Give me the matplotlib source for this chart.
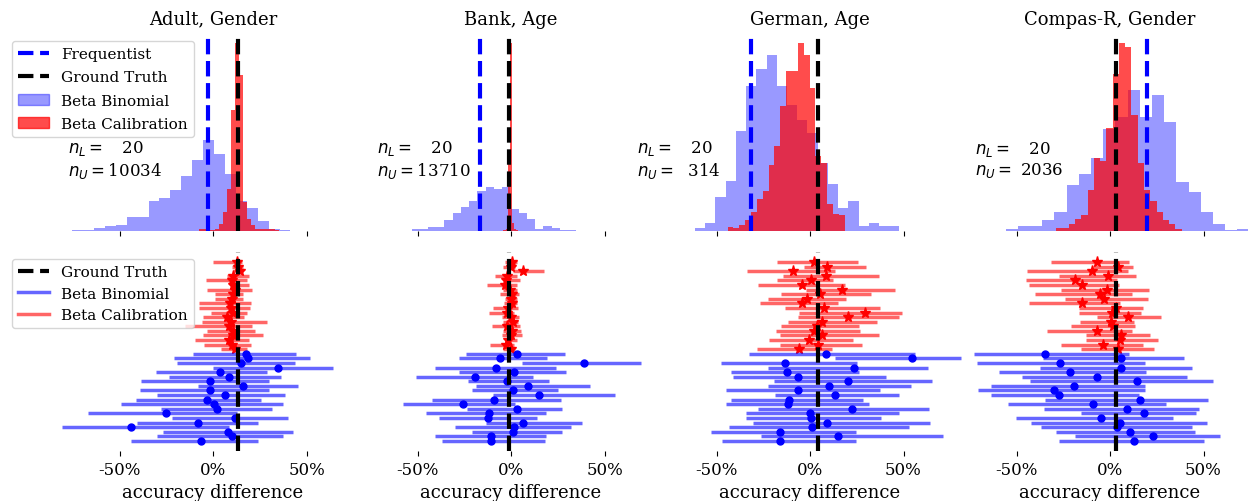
import numpy as np
import matplotlib
matplotlib.use('Agg')
import matplotlib.pyplot as plt
import matplotlib.transforms as mtransforms
from matplotlib.lines import Line2D
from matplotlib.patches import Patch

plt.rcParams['font.family'] = 'serif'

# Datensaetze / geschuetzte Attribute
titles = ['Adult, Gender', 'Bank, Age', 'German, Age', 'Compas-R, Gender']
n_labeled = [20, 20, 20, 20]
n_unlabeled = [10034, 13710, 314, 2036]

# Genauigkeitsdifferenz in Prozent
ground_truth = [13.6, -0.9, 4.3, 3.2]
frequentist = [-2.5, -16.5, -31.4, 19.8]

# Histogramme der Posterior-Stichproben: (Start, Ende) der Bins und Hoehen
bb_hist_range = [(-75.3, 41.4), (-53.2, 34.9), (-61.5, 47.8), (-55.8, 74.6)]
bb_hist_heights = [
    [0.7, 1.3, 3.0, 4.7, 5.7, 14.0, 14.0, 30.0, 33.3, 41.3,
     55.7, 71.3, 91.7, 77.3, 57.3, 30.0, 23.0, 9.7, 2.3, 1.3],
    [1.7, 1.7, 4.0, 4.0, 11.3, 18.0, 23.3, 29.7, 39.7, 44.0,
     41.3, 44.0, 22.3, 18.0, 12.3, 2.3, 4.7, 3.3, 1.3, 0.7],
    [3.0, 8.3, 34.7, 50.7, 100.7, 146.3, 163.3, 177.3, 146.3, 126.7,
     112.3, 99.0, 69.0, 47.3, 23.3, 30.7, 5.0, 8.3, 5.0, 5.0],
    [1.7, 5.0, 5.0, 10.7, 19.7, 46.3, 58.0, 74.0, 103.3, 115.7,
     142.3, 115.7, 138.0, 110.7, 49.7, 39.7, 19.7, 7.3, 0.7, 2.3],
]
bc_hist_range = [(-7.5, 35.1), (-5.5, 4.5), (-44.1, 18.6), (-28.8, 38.3)]
bc_hist_heights = [
    [1.7, 1.7, 0.7, 0.7, 2.3, 7.3, 19.0, 42.3, 122.3, 189.0,
     157.0, 29.0, 12.3, 5.7, 2.3, 1.7, 1.7, 1.7, 1.7, 1.3],
    [0.3, 0.7, 1.3, 2.3, 72.0, 186.0, 8.0, 2.3, 1.0, 0.3],
    [4.0, 3.3, 5.7, 10.7, 19.0, 32.0, 40.0, 66.7, 85.7, 126.0,
     161.0, 161.3, 189.0, 177.0, 144.0, 75.7, 69.0, 27.3, 17.3, 15.7],
    [3.3, 3.3, 7.3, 11.7, 15.7, 41.3, 74.0, 70.7, 104.0, 158.3,
     189.7, 185.7, 117.3, 68.3, 41.3, 30.7, 19.0, 10.7, 7.3, 1.7],
]

# Intervalle je Wiederholung: Beta Calibration (bc) und Beta Binomial (bb)
bc_low = [
    [0.2, 10.0, 10.9, 7.3, -3.8, 9.1, -3.0, 1.1, 1.1, -7.5,
     -7.5, -1.3, -5.6, -6.1, -15.0, -3.4, -5.2, -9.7, -4.8, 4.3],
    [-3.2, -4.4, 1.2, -8.5, -4.1, -12.9, -4.4, -5.9, -3.2, -3.5,
     -9.8, -12.0, -5.0, -4.4, -10.3, -4.1, -5.0, -3.2, -11.2, -4.1],
    [-17.9, -3.4, -33.9, -14.5, -17.4, -28.0, -2.3, -15.4, -22.6, -26.5,
     -13.4, -5.9, -6.3, -11.8, -15.4, -18.1, -15.9, -21.9, -15.8, -28.5],
    [-31.5, -9.0, -44.4, -27.3, -45.0, -43.2, -26.4, -40.1, -24.3, -43.2,
     -16.5, -16.5, -6.8, -16.2, -21.0, -33.6, -12.6, -13.1, -26.1, -15.3],
]
bc_point = [
    [13.1, 13.6, 14.2, 10.9, 10.0, 10.9, 11.8, 10.9, 10.4, 9.1,
     9.5, 10.9, 7.3, 9.5, 8.8, 10.9, 10.6, 8.8, 10.4, 11.8],
    [0.4, -0.2, 6.2, -2.3, -2.7, -3.2, -0.5, 0.4, -0.2, 0.4,
     -1.8, -2.0, 0.0, 0.9, -2.3, 0.4, 0.0, -1.4, -2.7, 0.0],
    [2.0, 9.1, -9.3, 8.8, 0.5, -4.3, 17.2, 5.2, -1.4, -4.5,
     7.7, 29.4, 20.1, 6.6, 3.9, 2.0, 6.6, -0.5, 4.3, -6.1],
    [-6.8, 4.1, -9.7, -1.3, -18.7, -14.9, -1.8, -5.4, -3.2, -14.9,
     3.1, 0.9, 9.5, 0.4, 1.4, -7.2, 5.8, 5.6, -3.8, 4.3],
]
bc_high = [
    [15.4, 16.0, 16.3, 19.0, 18.1, 19.0, 20.8, 16.0, 16.0, 20.3,
     19.9, 18.1, 16.8, 28.9, 20.8, 22.6, 27.0, 19.0, 20.3, 18.1],
    [3.0, 2.1, 17.6, 3.0, 4.8, 3.0, 3.0, 4.3, 3.0, 3.0,
     3.5, 1.6, 4.4, 3.9, 4.8, 5.1, 5.7, 3.4, 1.8, 2.1],
    [25.8, 30.1, 13.6, 37.1, 12.4, 18.6, 45.2, 32.4, 19.5, 15.1,
     37.5, 49.1, 47.7, 36.0, 26.3, 26.7, 37.1, 22.8, 28.0, 11.8],
    [10.1, 12.2, 9.5, 13.8, 3.6, 5.0, 21.0, 11.7, 20.3, 5.4,
     17.6, 16.7, 27.3, 13.1, 13.5, 11.7, 21.6, 25.9, 17.6, 23.7],
]
bb_low = [
    [-10.6, -21.0, -19.0, 0.2, -30.6, -23.5, -38.7, -7.9, -39.2, -29.9,
     -41.4, -49.0, -28.0, -66.7, -22.0, -40.9, -80.6, -26.7, -29.7, -43.7],
    [-23.9, -28.0, 6.0, -40.4, -27.7, -51.0, -23.0, -18.6, -20.9, -9.8,
     -42.0, -57.8, -23.6, -45.6, -38.7, -13.5, -30.0, -20.7, -40.8, -36.7],
    [-32.4, 13.6, -47.7, -22.2, -42.3, -41.2, -19.4, -22.6, -45.0, -18.8,
     -42.1, -44.8, -27.8, -34.2, -34.2, -30.6, -43.2, -52.7, -26.0, -46.8],
    [-72.8, -35.6, -71.0, -37.2, -59.2, -46.9, -42.6, -63.8, -70.5, -63.7,
     -34.5, -54.3, -35.1, -15.6, -50.4, -42.4, -36.9, -29.1, -18.9, -27.5],
]
bb_point = [
    [17.7, 18.5, 15.2, 34.8, 3.8, 8.8, -1.6, 16.3, -1.6, 6.6,
     -3.0, 0.5, 2.2, -25.1, 11.5, -8.2, -44.0, 7.9, 10.2, -6.5],
    [3.0, -5.9, 39.0, -8.2, 1.8, -19.5, -2.0, 9.0, 1.2, 15.1,
     -8.9, -25.7, 3.4, -11.7, -12.4, 6.6, 1.8, 1.2, -10.8, -10.8],
    [8.4, 54.7, -13.3, 23.5, -12.4, -6.3, 20.1, 10.4, -6.3, 13.4,
     -11.3, -11.6, 22.2, -0.2, 0.7, 9.3, 0.9, -16.3, 15.1, -15.8],
    [-34.5, 5.8, -26.6, 5.8, -21.6, -6.8, 14.7, -19.2, -29.9, -27.3,
     15.8, -9.2, 9.0, 18.0, -5.0, 5.6, 3.6, 10.6, 23.0, 12.9],
]
bb_high = [
    [44.6, 52.0, 43.7, 64.0, 28.9, 36.6, 29.9, 45.3, 29.9, 38.4,
     25.6, 37.5, 31.5, 12.7, 40.0, 24.0, 8.8, 42.7, 37.5, 23.8],
    [28.7, 19.3, 69.7, 23.9, 29.3, 11.5, 20.2, 42.4, 25.2, 55.7,
     27.0, 2.1, 27.5, 18.6, 14.0, 37.8, 32.3, 27.1, 18.6, 18.1],
    [55.9, 80.5, 25.4, 63.1, 26.0, 40.7, 65.2, 54.1, 37.5, 47.8,
     28.5, 31.4, 63.8, 47.8, 37.8, 64.0, 52.7, 24.4, 71.0, 24.4],
    [10.4, 39.6, 18.9, 44.1, 19.4, 41.4, 54.9, 18.9, 18.9, 15.3,
     52.2, 30.0, 47.7, 46.2, 33.8, 51.8, 43.7, 45.5, 59.0, 50.0],
]

# Layout in Pixeln
W, H = 1248, 502
zero_px = [213, 511, 810, 1110]
px_per_pct = 1.87
xlim = (-75, 75)
text_x = [-77.5, -71.7, -92.5, -72.2]

fig = plt.figure(figsize=(W / 100, H / 100), dpi=100)


def clean(ax, labels):
    for s in ax.spines.values():
        s.set_visible(False)
    ax.set_yticks([])
    ax.set_xlim(xlim)
    ax.set_xticks([-50, 0, 50])
    if labels:
        ax.set_xticklabels(['-50%', '0%', '50%'], fontsize=12)
    else:
        ax.set_xticklabels([])


for c in range(4):
    left = zero_px[c] + xlim[0] * px_per_pct
    width = (xlim[1] - xlim[0]) * px_per_pct
    ax1 = fig.add_axes([left / W, (H - 232) / H, width / W, 197 / H])
    ax2 = fig.add_axes([left / W, (H - 452) / H, width / W, 199 / H])

    # oben: Histogramme
    e_bb = np.linspace(*bb_hist_range[c], len(bb_hist_heights[c]) + 1)
    e_bc = np.linspace(*bc_hist_range[c], len(bc_hist_heights[c]) + 1)
    _, _, p_bb = ax1.hist(e_bb[:-1], bins=e_bb, weights=bb_hist_heights[c],
                          color='blue', alpha=0.4)
    _, _, p_bc = ax1.hist(e_bc[:-1], bins=e_bc, weights=bc_hist_heights[c],
                          color='red', alpha=0.7)
    for p in list(p_bb) + list(p_bc):
        p.set_clip_on(False)
    ax1.axvline(frequentist[c], color='blue', ls='--', lw=3)
    ax1.axvline(ground_truth[c], color='black', ls='--', lw=3)
    top = max(max(bb_hist_heights[c]), max(bc_hist_heights[c]))
    ax1.set_ylim(0, top * 1.05)
    clean(ax1, False)
    ax1.set_title(titles[c], fontsize=13, pad=7.5)
    trans = mtransforms.blended_transform_factory(ax1.transData, ax1.transAxes)
    ax1.text(text_x[c], 0.365,
             '$n_L = $%5d\n$n_U = $%5d' % (n_labeled[c], n_unlabeled[c]),
             transform=trans, ha='left', va='center', fontsize=12)

    # unten: Intervalle
    rows_bc = np.arange(len(bc_point[c]))
    rows_bb = np.arange(len(bb_point[c])) + len(bc_point[c])
    ax2.hlines(rows_bc, bc_low[c], bc_high[c], color='red', alpha=0.6,
               lw=2.5, clip_on=False)
    ax2.plot(bc_point[c], rows_bc, '*', color='red', ms=8, clip_on=False)
    ax2.hlines(rows_bb, bb_low[c], bb_high[c], color='blue', alpha=0.6,
               lw=2.5, clip_on=False)
    ax2.plot(bb_point[c], rows_bb, 'o', color='blue', ms=5, clip_on=False)
    ax2.axvline(ground_truth[c], color='black', ls='--', lw=3)
    ax2.set_ylim(41.2, -2.2)
    clean(ax2, True)
    ax2.set_xlabel('accuracy difference', fontsize=13)

    if c == 0:
        anchor_x = (12 - left) / width
        h1 = [Line2D([], [], color='blue', ls='--', lw=3),
              Line2D([], [], color='black', ls='--', lw=3),
              Patch(color='blue', alpha=0.4),
              Patch(color='red', alpha=0.7)]
        ax1.legend(h1, ['Frequentist', 'Ground Truth', 'Beta Binomial',
                        'Beta Calibration'],
                   loc='upper left', bbox_to_anchor=(anchor_x, 0.964),
                   borderaxespad=0, fontsize=11, labelspacing=0.6)
        h2 = [Line2D([], [], color='black', ls='--', lw=3),
              Line2D([], [], color='blue', alpha=0.6, lw=2.5),
              Line2D([], [], color='red', alpha=0.6, lw=2.5)]
        ax2.legend(h2, ['Ground Truth', 'Beta Binomial', 'Beta Calibration'],
                   loc='upper left', bbox_to_anchor=(anchor_x, 0.965),
                   borderaxespad=0, fontsize=11)

fig.savefig('out.png', dpi=100)
